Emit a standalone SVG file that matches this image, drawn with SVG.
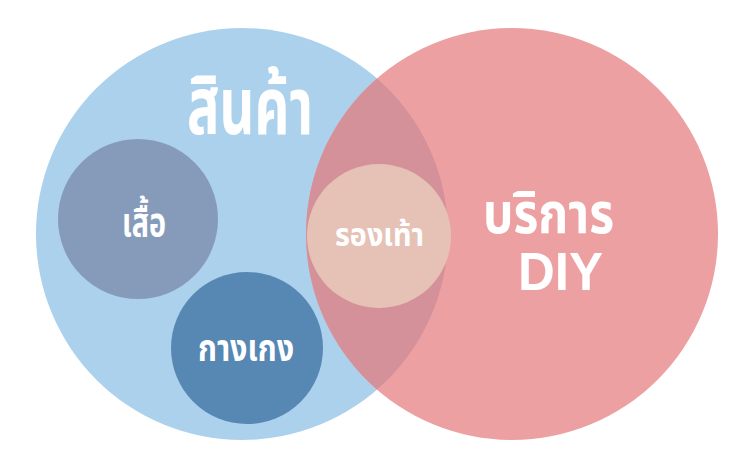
<svg xmlns="http://www.w3.org/2000/svg" width="750" height="474" viewBox="0 0 750 474">
<style>
.t{font-family:'Noto Sans Thai','Noto Sans','DejaVu Sans',sans-serif;font-weight:700;fill:#ffffff;text-anchor:middle}
.l{font-family:'Liberation Sans',Arial,sans-serif;font-weight:700;fill:#ffffff;text-anchor:middle}
</style>
<rect width="750" height="474" fill="#ffffff"/>
<g id="products">
<circle cx="242" cy="234" r="206" fill="#ABD1EC"/>
</g>
<g id="diy-service">
<circle cx="512" cy="234" r="206" fill="#ECA0A1"/>
</g>
<g id="overlap">
<path d="M377 78.4 A206 206 0 0 1 377 389.6 A206 206 0 0 1 377 78.4 Z" fill="#D4919A"/>
</g>
<g id="shirt">
<circle cx="138" cy="219" r="80" fill="#869BBA"/>
<text class="t" x="144" y="236" font-size="39" textLength="44" lengthAdjust="spacingAndGlyphs">เสื้อ</text>
</g>
<g id="pants">
<circle cx="247" cy="348" r="76" fill="#5787B3"/>
<text class="t" x="246" y="361" font-size="38" textLength="96" lengthAdjust="spacingAndGlyphs">กางเกง</text>
</g>
<g id="shoes">
<circle cx="379" cy="236" r="72" fill="#E6C2B6"/>
<text class="t" x="379.5" y="246" font-size="32" textLength="89" lengthAdjust="spacingAndGlyphs">รองเท้า</text>
</g>
<g id="labels">
<text class="t" x="250" y="134" font-size="80" textLength="126" lengthAdjust="spacingAndGlyphs">สินค้า</text>
<text class="t" x="548.5" y="233" font-size="56" textLength="131" lengthAdjust="spacingAndGlyphs">บริการ</text>
<text class="l" x="560.5" y="290" font-size="53" textLength="85" lengthAdjust="spacingAndGlyphs">DIY</text>
</g>
<g id="connectors"></g>
</svg>
